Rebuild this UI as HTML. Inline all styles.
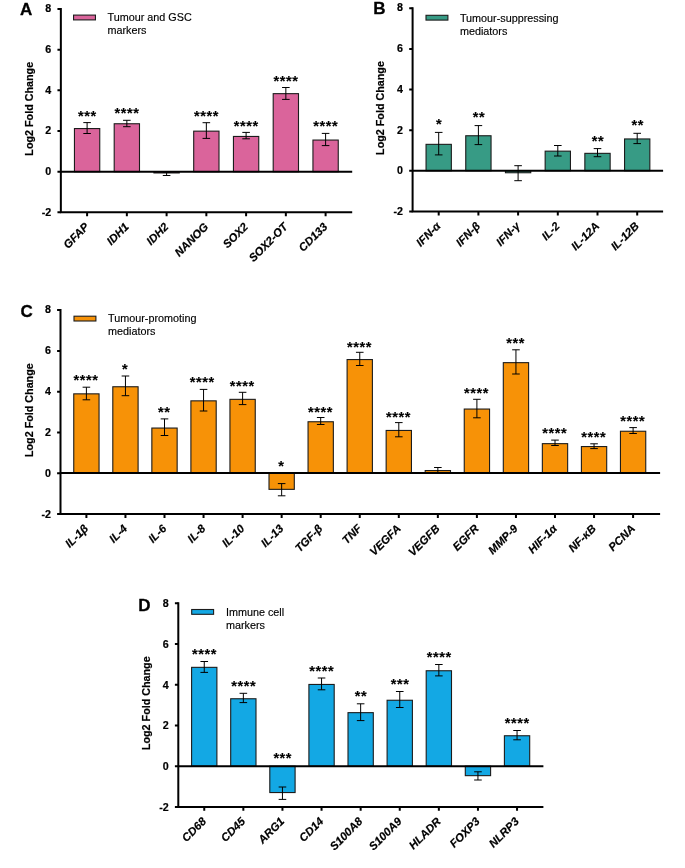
<!DOCTYPE html>
<html lang="en"><head><meta charset="utf-8"><title>Log2 Fold Change bar charts</title>
<style>html,body{margin:0;padding:0;background:#fff}body{width:685px;height:868px;overflow:hidden}svg{display:block}text{font-family:"Liberation Sans",sans-serif;fill:#000;stroke:#000;stroke-width:0.2;stroke-linejoin:round}.t{font-weight:bold;font-size:10.7px;text-anchor:end}.y{font-weight:bold;font-size:10.75px;text-anchor:middle}.x{font-weight:bold;font-style:italic;font-size:11.3px;text-anchor:end}.l{font-size:10.8px;stroke-width:0.15}.s{font-weight:bold;font-size:14.5px;letter-spacing:0.6px;text-anchor:middle;stroke-width:0.12;stroke-linejoin:miter}.p{font-weight:bold;font-size:17px;stroke-width:0.3}.a{stroke:#000;stroke-width:2.0;fill:none}.e{stroke:#000;stroke-width:1.0;fill:none}.b{stroke:#1c1c1c;stroke-width:1.1}</style></head><body>
<svg width="685" height="868" viewBox="0 0 685 868">
<rect width="685" height="868" fill="#fff"/>
<g>
<text class="p" x="20.1" y="14.9">A</text>
<rect class="b" x="73.55" y="15.10" width="21.90" height="4.80" fill="#DA649B"/>
<text class="l" x="107.5" y="21.1">Tumour and GSC</text>
<text class="l" x="107.5" y="34.2">markers</text>
<rect class="b" x="74.45" y="128.55" width="25.30" height="43.15" fill="#DA649B"/>
<path class="e" d="M87.10 122.60V133.50M83.30 122.60h7.60M83.30 133.50h7.60"/>
<text class="s" x="87.30" y="120.90">***</text>
<rect class="b" x="114.20" y="123.75" width="25.30" height="47.95" fill="#DA649B"/>
<path class="e" d="M126.85 120.30V126.70M123.05 120.30h7.60M123.05 126.70h7.60"/>
<text class="s" x="127.05" y="118.10">****</text>
<rect class="b" x="153.95" y="171.70" width="25.30" height="1.25" fill="#DA649B"/>
<path class="e" d="M166.60 172.20V175.50M162.80 172.20h7.60M162.80 175.50h7.60"/>
<rect class="b" x="193.70" y="131.15" width="25.30" height="40.55" fill="#DA649B"/>
<path class="e" d="M206.35 122.70V138.40M202.55 122.70h7.60M202.55 138.40h7.60"/>
<text class="s" x="206.55" y="120.70">****</text>
<rect class="b" x="233.45" y="136.45" width="25.30" height="35.25" fill="#DA649B"/>
<path class="e" d="M246.10 132.40V138.80M242.30 132.40h7.60M242.30 138.80h7.60"/>
<text class="s" x="246.30" y="131.20">****</text>
<rect class="b" x="273.20" y="93.65" width="25.30" height="78.05" fill="#DA649B"/>
<path class="e" d="M285.85 87.50V99.40M282.05 87.50h7.60M282.05 99.40h7.60"/>
<text class="s" x="286.05" y="85.50">****</text>
<rect class="b" x="312.95" y="140.05" width="25.30" height="31.65" fill="#DA649B"/>
<path class="e" d="M325.60 133.40V145.60M321.80 133.40h7.60M321.80 145.60h7.60"/>
<text class="s" x="325.80" y="131.20">****</text>
<path class="a" d="M60.85 8.00V212.30H352.20"/>
<path class="a" d="M60.85 171.70H352.20"/>
<text class="t" x="51.25" y="12.05">8</text>
<text class="t" x="51.25" y="52.83">6</text>
<text class="t" x="51.25" y="93.61">4</text>
<text class="t" x="51.25" y="134.39">2</text>
<text class="t" x="51.25" y="175.17">0</text>
<text class="t" x="51.25" y="215.95">-2</text>
<text class="x" transform="translate(89.70 227.50) rotate(-45)">GFAP</text>
<text class="x" transform="translate(129.45 227.50) rotate(-45)">IDH1</text>
<text class="x" transform="translate(169.20 227.50) rotate(-45)">IDH2</text>
<text class="x" transform="translate(208.95 227.50) rotate(-45)">NANOG</text>
<text class="x" transform="translate(248.70 227.50) rotate(-45)">SOX2</text>
<text class="x" transform="translate(288.45 227.50) rotate(-45)">SOX2-OT</text>
<text class="x" transform="translate(328.20 227.50) rotate(-45)">CD133</text>
<path class="a" d="M60.85 9.00h-3.40M60.85 49.66h-3.40M60.85 90.32h-3.40M60.85 130.98h-3.40M60.85 171.64h-3.40M60.85 212.30h-3.40M87.10 212.30v3.90M126.85 212.30v3.90M166.60 212.30v3.90M206.35 212.30v3.90M246.10 212.30v3.90M285.85 212.30v3.90M325.60 212.30v3.90"/>
<text class="y" transform="translate(33.45 108.75) rotate(-90)">Log2 Fold Change</text>
</g>
<g>
<text class="p" x="373.2" y="14.2">B</text>
<rect class="b" x="426.00" y="15.30" width="21.90" height="4.80" fill="#379B85"/>
<text class="l" x="459.9" y="21.7">Tumour-suppressing</text>
<text class="l" x="459.9" y="34.8">mediators</text>
<rect class="b" x="426.05" y="144.35" width="25.30" height="26.40" fill="#379B85"/>
<path class="e" d="M438.70 132.40V154.90M434.90 132.40h7.60M434.90 154.90h7.60"/>
<text class="s" x="439.20" y="128.50">*</text>
<rect class="b" x="465.75" y="135.75" width="25.30" height="35.00" fill="#379B85"/>
<path class="e" d="M478.40 125.60V144.60M474.60 125.60h7.60M474.60 144.60h7.60"/>
<text class="s" x="478.90" y="121.50">**</text>
<rect class="b" x="505.45" y="170.75" width="25.30" height="2.00" fill="#379B85"/>
<path class="e" d="M518.10 165.70V180.70M514.30 165.70h7.60M514.30 180.70h7.60"/>
<rect class="b" x="545.15" y="151.15" width="25.30" height="19.60" fill="#379B85"/>
<path class="e" d="M557.80 145.50V156.00M554.00 145.50h7.60M554.00 156.00h7.60"/>
<rect class="b" x="584.85" y="153.35" width="25.30" height="17.40" fill="#379B85"/>
<path class="e" d="M597.50 148.60V156.70M593.70 148.60h7.60M593.70 156.70h7.60"/>
<text class="s" x="598.00" y="146.20">**</text>
<rect class="b" x="624.55" y="138.95" width="25.30" height="31.80" fill="#379B85"/>
<path class="e" d="M637.20 133.30V143.60M633.40 133.30h7.60M633.40 143.60h7.60"/>
<text class="s" x="637.70" y="130.00">**</text>
<path class="a" d="M412.60 7.30V211.50H663.10"/>
<path class="a" d="M412.60 170.75H663.10"/>
<text class="t" x="403.00" y="11.45">8</text>
<text class="t" x="403.00" y="52.17">6</text>
<text class="t" x="403.00" y="92.89">4</text>
<text class="t" x="403.00" y="133.61">2</text>
<text class="t" x="403.00" y="174.33">0</text>
<text class="t" x="403.00" y="215.05">-2</text>
<text class="x" transform="translate(441.30 226.70) rotate(-45)">IFN-α</text>
<text class="x" transform="translate(481.00 226.70) rotate(-45)">IFN-β</text>
<text class="x" transform="translate(520.70 226.70) rotate(-45)">IFN-γ</text>
<text class="x" transform="translate(560.40 226.70) rotate(-45)">IL-2</text>
<text class="x" transform="translate(600.10 226.70) rotate(-45)">IL-12A</text>
<text class="x" transform="translate(639.80 226.70) rotate(-45)">IL-12B</text>
<path class="a" d="M412.60 8.30h-3.40M412.60 48.94h-3.40M412.60 89.58h-3.40M412.60 130.22h-3.40M412.60 170.86h-3.40M412.60 211.50h-3.40M438.70 211.50v3.90M478.40 211.50v3.90M518.10 211.50v3.90M557.80 211.50v3.90M597.50 211.50v3.90M637.20 211.50v3.90"/>
<text class="y" transform="translate(383.80 108.00) rotate(-90)">Log2 Fold Change</text>
</g>
<g>
<text class="p" x="20.4" y="316.5">C</text>
<rect class="b" x="74.00" y="316.20" width="21.90" height="4.80" fill="#F79207"/>
<text class="l" x="108.0" y="322.1">Tumour-promoting</text>
<text class="l" x="108.0" y="335.2">mediators</text>
<rect class="b" x="73.75" y="393.85" width="25.30" height="79.05" fill="#F79207"/>
<path class="e" d="M86.40 387.20V399.80M82.60 387.20h7.60M82.60 399.80h7.60"/>
<text class="s" x="86.10" y="384.60">****</text>
<rect class="b" x="112.80" y="386.75" width="25.30" height="86.15" fill="#F79207"/>
<path class="e" d="M125.45 376.00V395.70M121.65 376.00h7.60M121.65 395.70h7.60"/>
<text class="s" x="125.15" y="373.60">*</text>
<rect class="b" x="151.85" y="428.05" width="25.30" height="44.85" fill="#F79207"/>
<path class="e" d="M164.50 418.90V435.50M160.70 418.90h7.60M160.70 435.50h7.60"/>
<text class="s" x="164.20" y="416.90">**</text>
<rect class="b" x="190.90" y="400.85" width="25.30" height="72.05" fill="#F79207"/>
<path class="e" d="M203.55 389.40V411.00M199.75 389.40h7.60M199.75 411.00h7.60"/>
<text class="s" x="202.35" y="387.20">****</text>
<rect class="b" x="229.95" y="399.35" width="25.30" height="73.55" fill="#F79207"/>
<path class="e" d="M242.60 392.30V404.60M238.80 392.30h7.60M238.80 404.60h7.60"/>
<text class="s" x="242.30" y="391.10">****</text>
<rect class="b" x="269.00" y="472.90" width="25.30" height="16.45" fill="#F79207"/>
<path class="e" d="M281.65 483.60V495.80M277.85 483.60h7.60M277.85 495.80h7.60"/>
<text class="s" x="281.35" y="470.60">*</text>
<rect class="b" x="308.05" y="421.75" width="25.30" height="51.15" fill="#F79207"/>
<path class="e" d="M320.70 417.50V424.50M316.90 417.50h7.60M316.90 424.50h7.60"/>
<text class="s" x="320.40" y="416.90">****</text>
<rect class="b" x="347.10" y="359.55" width="25.30" height="113.35" fill="#F79207"/>
<path class="e" d="M359.75 352.30V365.50M355.95 352.30h7.60M355.95 365.50h7.60"/>
<text class="s" x="359.45" y="351.50">****</text>
<rect class="b" x="386.15" y="430.45" width="25.30" height="42.45" fill="#F79207"/>
<path class="e" d="M398.80 422.60V436.80M395.00 422.60h7.60M395.00 436.80h7.60"/>
<text class="s" x="398.50" y="422.00">****</text>
<rect class="b" x="425.20" y="470.55" width="25.30" height="2.35" fill="#F79207"/>
<path class="e" d="M437.85 467.50V472.90M434.05 467.50h7.60M434.05 472.90h7.60"/>
<rect class="b" x="464.25" y="409.05" width="25.30" height="63.85" fill="#F79207"/>
<path class="e" d="M476.90 399.30V417.80M473.10 399.30h7.60M473.10 417.80h7.60"/>
<text class="s" x="476.60" y="398.30">****</text>
<rect class="b" x="503.30" y="362.65" width="25.30" height="110.25" fill="#F79207"/>
<path class="e" d="M515.95 349.80V374.00M512.15 349.80h7.60M512.15 374.00h7.60"/>
<text class="s" x="515.65" y="347.60">***</text>
<rect class="b" x="542.35" y="443.65" width="25.30" height="29.25" fill="#F79207"/>
<path class="e" d="M555.00 440.10V445.50M551.20 440.10h7.60M551.20 445.50h7.60"/>
<text class="s" x="554.70" y="437.90">****</text>
<rect class="b" x="581.40" y="446.55" width="25.30" height="26.35" fill="#F79207"/>
<path class="e" d="M594.05 443.80V448.60M590.25 443.80h7.60M590.25 448.60h7.60"/>
<text class="s" x="593.75" y="442.00">****</text>
<rect class="b" x="620.45" y="431.25" width="25.30" height="41.65" fill="#F79207"/>
<path class="e" d="M633.10 427.60V433.50M629.30 427.60h7.60M629.30 433.50h7.60"/>
<text class="s" x="632.80" y="426.30">****</text>
<path class="a" d="M60.50 309.10V514.00H660.10"/>
<path class="a" d="M60.50 472.90H660.10"/>
<text class="t" x="50.90" y="313.15">8</text>
<text class="t" x="50.90" y="354.05">6</text>
<text class="t" x="50.90" y="394.95">4</text>
<text class="t" x="50.90" y="435.85">2</text>
<text class="t" x="50.90" y="476.75">0</text>
<text class="t" x="50.90" y="517.65">-2</text>
<text class="x" transform="translate(89.00 529.20) rotate(-45)">IL-1β</text>
<text class="x" transform="translate(128.05 529.20) rotate(-45)">IL-4</text>
<text class="x" transform="translate(167.10 529.20) rotate(-45)">IL-6</text>
<text class="x" transform="translate(206.15 529.20) rotate(-45)">IL-8</text>
<text class="x" transform="translate(245.20 529.20) rotate(-45)">IL-10</text>
<text class="x" transform="translate(284.25 529.20) rotate(-45)">IL-13</text>
<text class="x" transform="translate(323.30 529.20) rotate(-45)">TGF-β</text>
<text class="x" transform="translate(362.35 529.20) rotate(-45)">TNF</text>
<text class="x" transform="translate(401.40 529.20) rotate(-45)">VEGFA</text>
<text class="x" transform="translate(440.45 529.20) rotate(-45)">VEGFB</text>
<text class="x" transform="translate(479.50 529.20) rotate(-45)">EGFR</text>
<text class="x" transform="translate(518.55 529.20) rotate(-45)">MMP-9</text>
<text class="x" transform="translate(557.60 529.20) rotate(-45)">HIF-1α</text>
<text class="x" transform="translate(596.65 529.20) rotate(-45)">NF-κB</text>
<text class="x" transform="translate(635.70 529.20) rotate(-45)">PCNA</text>
<path class="a" d="M60.50 310.10h-3.40M60.50 350.88h-3.40M60.50 391.66h-3.40M60.50 432.44h-3.40M60.50 473.22h-3.40M60.50 514.00h-3.40M86.40 514.00v3.90M125.45 514.00v3.90M164.50 514.00v3.90M203.55 514.00v3.90M242.60 514.00v3.90M281.65 514.00v3.90M320.70 514.00v3.90M359.75 514.00v3.90M398.80 514.00v3.90M437.85 514.00v3.90M476.90 514.00v3.90M515.95 514.00v3.90M555.00 514.00v3.90M594.05 514.00v3.90M633.10 514.00v3.90"/>
<text class="y" transform="translate(33.10 410.15) rotate(-90)">Log2 Fold Change</text>
</g>
<g>
<text class="p" x="138.3" y="611.0">D</text>
<rect class="b" x="191.70" y="609.50" width="21.90" height="4.80" fill="#13A8E4"/>
<text class="l" x="225.9" y="615.5">Immune cell</text>
<text class="l" x="225.9" y="628.6">markers</text>
<rect class="b" x="191.60" y="667.35" width="25.30" height="98.85" fill="#13A8E4"/>
<path class="e" d="M204.25 661.50V672.40M200.45 661.50h7.60M200.45 672.40h7.60"/>
<text class="s" x="204.55" y="659.30">****</text>
<rect class="b" x="230.70" y="698.75" width="25.30" height="67.45" fill="#13A8E4"/>
<path class="e" d="M243.35 693.30V702.60M239.55 693.30h7.60M239.55 702.60h7.60"/>
<text class="s" x="243.65" y="691.20">****</text>
<rect class="b" x="269.80" y="766.20" width="25.30" height="26.35" fill="#13A8E4"/>
<path class="e" d="M282.45 787.00V799.40M278.65 787.00h7.60M278.65 799.40h7.60"/>
<text class="s" x="282.75" y="763.20">***</text>
<rect class="b" x="308.90" y="684.45" width="25.30" height="81.75" fill="#13A8E4"/>
<path class="e" d="M321.55 678.00V689.80M317.75 678.00h7.60M317.75 689.80h7.60"/>
<text class="s" x="321.85" y="675.60">****</text>
<rect class="b" x="348.00" y="712.65" width="25.30" height="53.55" fill="#13A8E4"/>
<path class="e" d="M360.65 703.80V720.60M356.85 703.80h7.60M356.85 720.60h7.60"/>
<text class="s" x="360.95" y="701.20">**</text>
<rect class="b" x="387.10" y="700.25" width="25.30" height="65.95" fill="#13A8E4"/>
<path class="e" d="M399.75 691.50V707.50M395.95 691.50h7.60M395.95 707.50h7.60"/>
<text class="s" x="400.05" y="688.70">***</text>
<rect class="b" x="426.20" y="670.75" width="25.30" height="95.45" fill="#13A8E4"/>
<path class="e" d="M438.85 664.50V675.90M435.05 664.50h7.60M435.05 675.90h7.60"/>
<text class="s" x="439.15" y="662.30">****</text>
<rect class="b" x="465.30" y="766.20" width="25.30" height="9.45" fill="#13A8E4"/>
<path class="e" d="M477.95 771.80V780.00M474.15 771.80h7.60M474.15 780.00h7.60"/>
<rect class="b" x="504.40" y="735.75" width="25.30" height="30.45" fill="#13A8E4"/>
<path class="e" d="M517.05 730.50V739.80M513.25 730.50h7.60M513.25 739.80h7.60"/>
<text class="s" x="517.35" y="727.90">****</text>
<path class="a" d="M178.30 602.30V806.95H543.40"/>
<path class="a" d="M178.30 766.20H543.40"/>
<text class="t" x="168.70" y="607.05">8</text>
<text class="t" x="168.70" y="647.78">6</text>
<text class="t" x="168.70" y="688.51">4</text>
<text class="t" x="168.70" y="729.24">2</text>
<text class="t" x="168.70" y="769.97">0</text>
<text class="t" x="168.70" y="810.70">-2</text>
<text class="x" transform="translate(206.85 822.15) rotate(-45)">CD68</text>
<text class="x" transform="translate(245.95 822.15) rotate(-45)">CD45</text>
<text class="x" transform="translate(285.05 822.15) rotate(-45)">ARG1</text>
<text class="x" transform="translate(324.15 822.15) rotate(-45)">CD14</text>
<text class="x" transform="translate(363.25 822.15) rotate(-45)">S100A8</text>
<text class="x" transform="translate(402.35 822.15) rotate(-45)">S100A9</text>
<text class="x" transform="translate(441.45 822.15) rotate(-45)">HLADR</text>
<text class="x" transform="translate(480.55 822.15) rotate(-45)">FOXP3</text>
<text class="x" transform="translate(519.65 822.15) rotate(-45)">NLRP3</text>
<path class="a" d="M178.30 603.30h-3.40M178.30 644.03h-3.40M178.30 684.76h-3.40M178.30 725.49h-3.40M178.30 766.22h-3.40M178.30 806.95h-3.40M204.25 806.95v3.90M243.35 806.95v3.90M282.45 806.95v3.90M321.55 806.95v3.90M360.65 806.95v3.90M399.75 806.95v3.90M438.85 806.95v3.90M477.95 806.95v3.90M517.05 806.95v3.90"/>
<text class="y" transform="translate(150.30 703.23) rotate(-90)">Log2 Fold Change</text>
</g>
</svg></body></html>
